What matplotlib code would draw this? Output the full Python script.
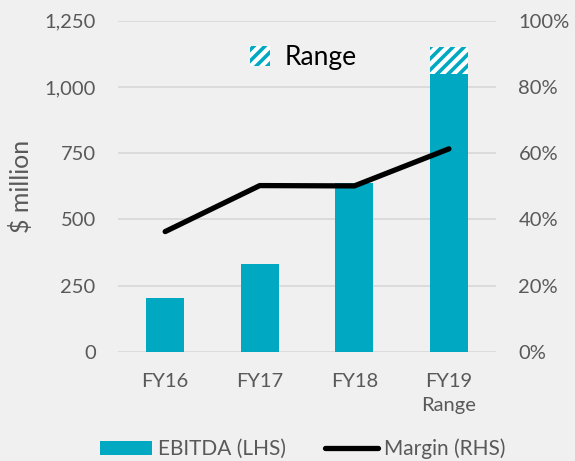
import numpy as np
import matplotlib
matplotlib.use('Agg')
import matplotlib.pyplot as plt
from matplotlib.patches import Patch
from matplotlib.lines import Line2D

years = ['FY16', 'FY17', 'FY18', 'FY19\nRange']
ebitda = [204, 330, 636, 1050]
range_low = 1050
range_high = 1150
margin = [36.3, 50.2, 50.1, 61.3]

teal = '#00A9C1'
grey = '#595959'
bg = '#F0F0F0'

plt.rcParams['font.family'] = ['Lato', 'DejaVu Sans']
plt.rcParams['hatch.linewidth'] = 2.6
plt.rcParams['hatch.color'] = teal

fig = plt.figure(figsize=(5.75, 4.61), dpi=100, facecolor=bg)
ax = fig.add_axes([0.205, 0.237, 0.658, 0.718])
ax.set_facecolor(bg)

x = np.arange(len(years))
ax.bar(x, ebitda, width=0.4, color=teal, zorder=2)
ax.bar(x[3], range_high - range_low, bottom=range_low, width=0.4,
       facecolor='white', edgecolor=teal, hatch='///', linewidth=0, zorder=2)

ax.set_ylim(0, 1250)
ax.set_xlim(-0.5, 3.5)
ax.set_yticks(range(0, 1251, 250))
ax.set_yticklabels(['{:,}'.format(v) for v in range(0, 1251, 250)])
ax.set_xticks(x)
ax.set_xticklabels(years, linespacing=1.5)
ax.grid(axis='y', color='#D9D9D9', linewidth=1.3, zorder=0)
ax.set_axisbelow(True)
for s in ax.spines.values():
    s.set_visible(False)
ax.tick_params(axis='y', length=0, pad=16, labelsize=14.5, labelcolor=grey)
ax.tick_params(axis='x', length=0, pad=15, labelsize=14.5, labelcolor=grey)
ax.set_ylabel('$ million', fontsize=18, color=grey, labelpad=8)

ax2 = ax.twinx()
ax2.plot(x, margin, color='black', linewidth=3.8, solid_capstyle='round',
         solid_joinstyle='round', zorder=3)
ax2.set_ylim(0, 100)
ax2.set_yticks(range(0, 101, 20))
ax2.set_yticklabels(['{}%'.format(v) for v in range(0, 101, 20)])
for s in ax2.spines.values():
    s.set_visible(False)
ax2.tick_params(axis='y', length=0, pad=16, labelsize=14.5, labelcolor=grey)

range_patch = Patch(facecolor='white', edgecolor=teal, hatch='///', linewidth=0)
ax.legend([range_patch], ['Range'], loc='center', bbox_to_anchor=(0.49, 0.888),
          frameon=False, fontsize=19, handlelength=0.76, handleheight=0.8,
          handletextpad=0.55, borderpad=0)

handles = [Patch(facecolor=teal), Line2D([], [], color='black', linewidth=3.8,
                                          solid_capstyle='round')]
leg = fig.legend(handles, ['EBITDA (LHS)', 'Margin (RHS)'], loc='center',
                 bbox_to_anchor=(0.526, 0.026), ncol=2, frameon=False,
                 fontsize=15, handlelength=2.5, handletextpad=0.3,
                 columnspacing=1.9, borderpad=0)
for t in leg.get_texts():
    t.set_color(grey)

fig.savefig('out.png', dpi=100, facecolor=bg)
